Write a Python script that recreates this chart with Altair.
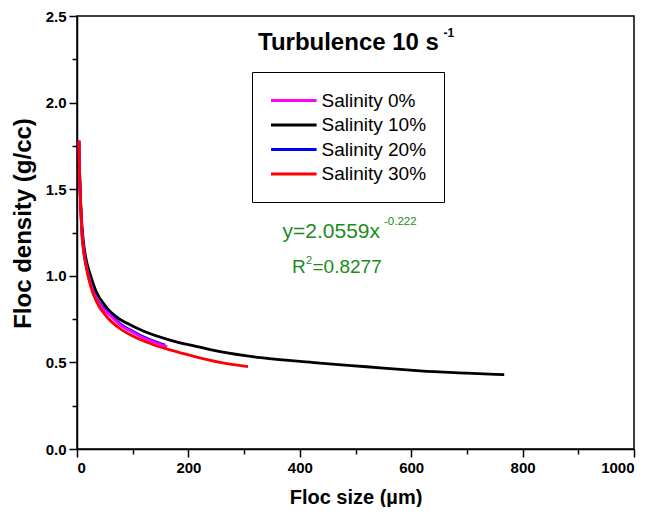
import altair as alt
import pandas as pd

# ---- data ----
series_names = ["Salinity 0%", "Salinity 10%", "Salinity 20%", "Salinity 30%"]
series_colors = ["#FF00FF", "#000000", "#0000FF", "#FF0000"]

s0_x = [3.5, 4.2, 6, 8.5, 12, 16, 25, 35, 45, 59, 80, 100, 119, 140, 162]
s0_y = [1.78, 1.65, 1.46, 1.27, 1.145, 1.065, 0.945, 0.865, 0.815, 0.774, 0.71, 0.674, 0.642, 0.615, 0.591]

s10_x = [3.5, 4.3, 6, 9, 13, 18.5, 23, 35, 50, 59, 74, 89, 120, 167, 210, 257, 330, 436, 520, 580, 616, 700, 767]
s10_y = [1.78, 1.65, 1.465, 1.285, 1.16, 1.065, 1.015, 0.905, 0.83, 0.795, 0.755, 0.727, 0.68, 0.629, 0.595,
         0.562, 0.527, 0.496, 0.475, 0.46, 0.451, 0.438, 0.429]

s20_x = [3.5, 4.2, 6, 8.5, 12, 16, 25, 35, 45, 59, 80, 100, 119, 140, 158]
s20_y = [1.78, 1.65, 1.462, 1.275, 1.15, 1.07, 0.95, 0.87, 0.822, 0.78, 0.716, 0.68, 0.648, 0.62, 0.60]

s30_x = [3.5, 4.2, 6, 8.4, 12, 16, 25, 35, 53, 75, 100, 135, 167, 210, 257, 307]
s30_y = [1.78, 1.65, 1.457, 1.264, 1.14, 1.06, 0.935, 0.85, 0.765, 0.70, 0.652, 0.605, 0.572, 0.535, 0.50, 0.476]

x_ticks = list(range(0, 1001, 100))
y_ticks = [i * 0.25 for i in range(11)]

FONT = "Liberation Sans"

rows = []
for name, xs, ys in [
    ("Salinity 0%", s0_x, s0_y),
    ("Salinity 10%", s10_x, s10_y),
    ("Salinity 20%", s20_x, s20_y),
    ("Salinity 30%", s30_x, s30_y),
]:
    for i, (a, b) in enumerate(zip(xs, ys)):
        rows.append({"series": name, "size": a, "density": b, "idx": i})
df = pd.DataFrame(rows)

x_enc = alt.X(
    "size:Q",
    scale=alt.Scale(domain=[0, 1000], nice=False, zero=False),
    axis=alt.Axis(
        values=x_ticks,
        labelExpr="datum.value % 200 == 0 ? datum.label : ''",
        tickSize={"condition": {"test": "datum.value % 200 == 0", "value": 8}, "value": 5},
        format="d",
        title="Floc size (µm)",
        titleFontSize=20,
        titleY=54,
        titleBaseline="alphabetic",
    ),
)
y_enc = alt.Y(
    "density:Q",
    scale=alt.Scale(domain=[0, 2.5], nice=False, zero=False),
    axis=alt.Axis(
        values=y_ticks,
        labelExpr="datum.value % 0.5 == 0 ? format(datum.value, '.1f') : ''",
        tickSize={"condition": {"test": "datum.value % 0.5 == 0", "value": 8}, "value": 5},
        title="Floc density (g/cc)",
        titleFontSize=24,
        titleX=-47,
        titleY=207,
        titleBaseline="alphabetic",
    ),
)
color_enc = alt.Color(
    "series:N",
    scale=alt.Scale(domain=series_names, range=series_colors),
    legend=alt.Legend(
        title=None,
        orient="none",
        legendX=175,
        legendY=56,
        direction="vertical",
        symbolType="M-1,0H3.8",
        symbolSize=361,
        symbolStrokeWidth=3,
        labelFontSize=19,
        labelFont=FONT,
        labelOffset=30,
        rowPadding=3.5,
        padding=17.5,
        strokeColor="black",
        fillColor="white",
    ),
)

layers = []
for name in ["Salinity 10%", "Salinity 20%", "Salinity 0%", "Salinity 30%"]:
    layers.append(
        alt.Chart(df)
        .transform_filter(alt.datum.series == name)
        .mark_line(strokeWidth=2.8, interpolate="monotone")
        .encode(x=x_enc, y=y_enc, color=color_enc, order="idx:Q")
    )

one = pd.DataFrame({"a": [0]})


def txt(t, x, y, size, color="black", weight="normal"):
    return (
        alt.Chart(one)
        .mark_text(align="left", baseline="alphabetic", font=FONT, fontSize=size,
                   fontWeight=weight, color=color)
        .encode(x=alt.value(x), y=alt.value(y), text=alt.value(t))
    )


green = "#1A8C1A"
layers += [
    txt("Turbulence 10 s", 181, 34, 24, weight="bold"),
    txt("-1", 366.5, 21, 12, weight="bold"),
    txt("y=2.0559x", 205.5, 221.7, 21, color=green),
    txt("-0.222", 307, 209, 11.5, color=green),
    txt("R", 215, 257.3, 19, color=green),
    txt("2", 229, 248, 11, color=green),
    txt("=0.8277", 235.5, 257.3, 19, color=green),
]

chart = (
    alt.layer(*layers)
    .properties(
        width=557,
        height=433,
        autosize=alt.AutoSizeParams(type="none"),
        padding={"left": 69, "top": 8, "right": 9, "bottom": 58},
    )
    .configure_view(stroke="black", strokeWidth=1.5)
    .configure_axis(
        grid=False,
        domainColor="black",
        domainWidth=1.5,
        tickColor="black",
        tickWidth=1.5,
        labelFont=FONT,
        labelFontSize=15,
        labelFontWeight="bold",
        labelColor="black",
        labelPadding=3,
        labelOverlap=False,
        titleFont=FONT,
        titleFontWeight="bold",
        titleColor="black",
    )
)

chart.save("out.html", embed_options={"renderer": "svg", "actions": False})
